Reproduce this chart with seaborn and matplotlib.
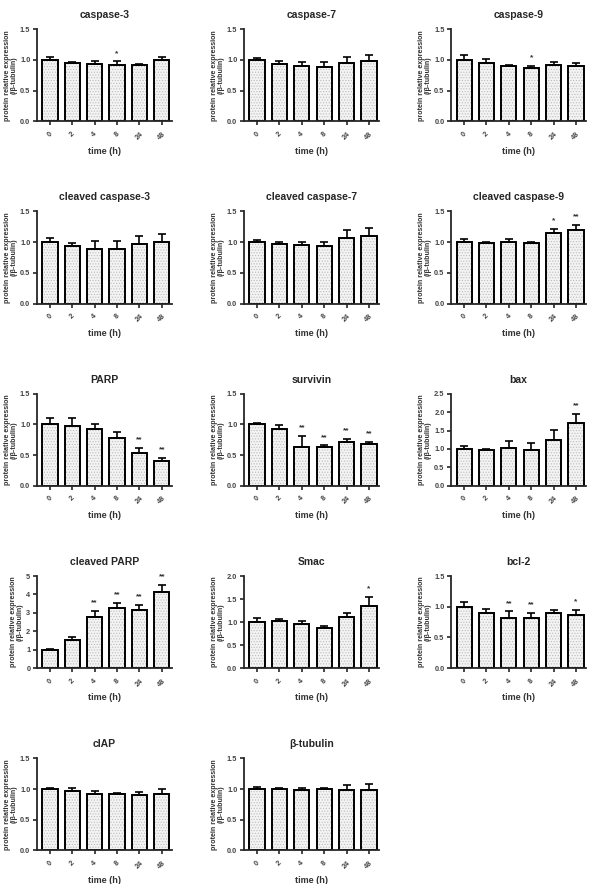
import numpy as np
import seaborn as sns
import matplotlib.pyplot as plt

times = ['0', '2', '4', '8', '24', '48']

titles = ['caspase-3', 'caspase-7', 'caspase-9',
          'cleaved caspase-3', 'cleaved caspase-7', 'cleaved caspase-9',
          'PARP', 'survivin', 'bax',
          'cleaved PARP', 'Smac', 'bcl-2',
          'cIAP', 'β-tubulin']

# means and SEM (upper error only)
casp3 = [1.0, 0.95, 0.93, 0.91, 0.91, 0.99]
casp3_err = [0.04, 0.02, 0.055, 0.065, 0.03, 0.05]
casp7 = [1.0, 0.94, 0.905, 0.89, 0.955, 0.975]
casp7_err = [0.03, 0.04, 0.065, 0.075, 0.095, 0.11]
casp9 = [1.0, 0.95, 0.905, 0.866, 0.92, 0.905]
casp9_err = [0.075, 0.07, 0.01, 0.04, 0.05, 0.045]
cl_casp3 = [1.0, 0.945, 0.884, 0.884, 0.966, 0.998]
cl_casp3_err = [0.06, 0.045, 0.135, 0.13, 0.14, 0.137]
cl_casp7 = [1.005, 0.973, 0.95, 0.94, 1.066, 1.1]
cl_casp7_err = [0.035, 0.035, 0.06, 0.06, 0.125, 0.13]
cl_casp9 = [1.0, 0.99, 1.0, 0.99, 1.146, 1.206]
cl_casp9_err = [0.05, 0.01, 0.05, 0.02, 0.07, 0.075]
parp = [1.0, 0.98, 0.93, 0.78, 0.53, 0.4]
parp_err = [0.1, 0.12, 0.085, 0.09, 0.083, 0.054]
survivin = [1.0, 0.93, 0.63, 0.635, 0.71, 0.684]
survivin_err = [0.03, 0.06, 0.185, 0.022, 0.056, 0.033]
bax = [1.0, 0.976, 1.03, 0.985, 1.25, 1.706]
bax_err = [0.08, 0.034, 0.2, 0.175, 0.27, 0.254]
cl_parp = [1.0, 1.53, 2.76, 3.27, 3.18, 4.16]
cl_parp_err = [0.04, 0.15, 0.36, 0.27, 0.27, 0.38]
smac = [1.0, 1.03, 0.963, 0.875, 1.11, 1.36]
smac_err = [0.08, 0.04, 0.057, 0.03, 0.09, 0.19]
bcl2 = [1.0, 0.9, 0.82, 0.82, 0.9, 0.865]
bcl2_err = [0.07, 0.063, 0.105, 0.08, 0.047, 0.082]
ciap = [1.0, 0.97, 0.92, 0.92, 0.9, 0.92]
ciap_err = [0.02, 0.04, 0.05, 0.01, 0.05, 0.08]
tubulin = [1.0, 1.0, 0.99, 1.0, 0.99, 0.99]
tubulin_err = [0.03, 0.02, 0.03, 0.02, 0.07, 0.09]

# significance marks
casp3_sig = ['', '', '', '*', '', '']
casp9_sig = ['', '', '', '*', '', '']
cl_casp9_sig = ['', '', '', '', '*', '**']
parp_sig = ['', '', '', '', '**', '**']
survivin_sig = ['', '', '**', '**', '**', '**']
bax_sig = ['', '', '', '', '', '**']
cl_parp_sig = ['', '', '**', '**', '**', '**']
smac_sig = ['', '', '', '', '', '*']
bcl2_sig = ['', '', '**', '**', '', '*']
none_sig = [''] * 6

means = [casp3, casp7, casp9, cl_casp3, cl_casp7, cl_casp9,
         parp, survivin, bax, cl_parp, smac, bcl2, ciap, tubulin]
errors = [casp3_err, casp7_err, casp9_err, cl_casp3_err, cl_casp7_err, cl_casp9_err,
          parp_err, survivin_err, bax_err, cl_parp_err, smac_err, bcl2_err, ciap_err, tubulin_err]
sigs = [casp3_sig, none_sig, casp9_sig, none_sig, none_sig, cl_casp9_sig,
        parp_sig, survivin_sig, bax_sig, cl_parp_sig, smac_sig, bcl2_sig, none_sig, none_sig]
ymaxs = [1.5, 1.5, 1.5, 1.5, 1.5, 1.5, 1.5, 1.5, 2.5, 5, 2.0, 1.5, 1.5, 1.5]
ysteps = [0.5] * 9 + [1] + [0.5] * 4

sns.set_style('ticks')
plt.rcParams['font.family'] = ['Liberation Sans', 'DejaVu Sans']
plt.rcParams['font.weight'] = 'bold'
plt.rcParams['hatch.linewidth'] = 0.5

fig, axes = plt.subplots(5, 3, figsize=(5.89, 8.84), dpi=100)
fig.subplots_adjust(left=0.062, right=0.995, top=0.967, bottom=0.038,
                    wspace=0.53, hspace=0.98)

for ax, title, vals, errs, sig, ymax, ystep in zip(axes.flat, titles, means, errors,
                                                     sigs, ymaxs, ysteps):
    sns.barplot(x=times, y=vals, color='#f3f3f3', edgecolor='#bdbdbd', linewidth=0,
                hatch='......', width=0.68, errorbar=None, ax=ax)
    sns.barplot(x=times, y=vals, color='black', fill=False, linewidth=1.4,
                width=0.68, errorbar=None, ax=ax)
    pos = np.arange(len(times))
    ax.errorbar(pos, vals, yerr=[np.zeros(len(vals)), errs], fmt='none',
                ecolor='black', elinewidth=1.2, capsize=3, capthick=1.2, zorder=1)
    for p, v, e, s in zip(pos, vals, errs, sig):
        if s:
            ax.text(p, v + e + ymax * 0.05, s, ha='center', va='bottom',
                    fontsize=6, color='#333333')

    ax.set_ylim(0, ymax)
    ax.set_xlim(-0.6, 5.45)
    ticks = np.arange(0, ymax + 0.001, ystep)
    ax.set_yticks(ticks)
    if ystep == 1:
        ax.set_yticklabels([f'{t:.0f}' for t in ticks])
    else:
        ax.set_yticklabels([f'{t:.1f}' for t in ticks])
    ax.tick_params(axis='y', labelsize=5.3, width=1.2, length=3, pad=1.5,
                   labelcolor='#444444')
    ax.tick_params(axis='x', labelsize=5.3, width=1.2, length=3, labelcolor='#444444',
                   rotation=45)
    ax.set_title(title, fontsize=7.5, fontweight='bold', pad=8)
    ax.set_xlabel('time (h)', fontsize=6.5, fontweight='bold', color='#333333')
    ax.set_ylabel('protein relative expression\n(/β-tubulin)', fontsize=5.1,
                  fontweight='bold', color='#333333', linespacing=1.05, labelpad=1.5)
    for sp in ['left', 'bottom']:
        ax.spines[sp].set_linewidth(1.3)
    sns.despine(ax=ax)

axes[4, 2].remove()

fig.savefig('out.png', dpi=100)
